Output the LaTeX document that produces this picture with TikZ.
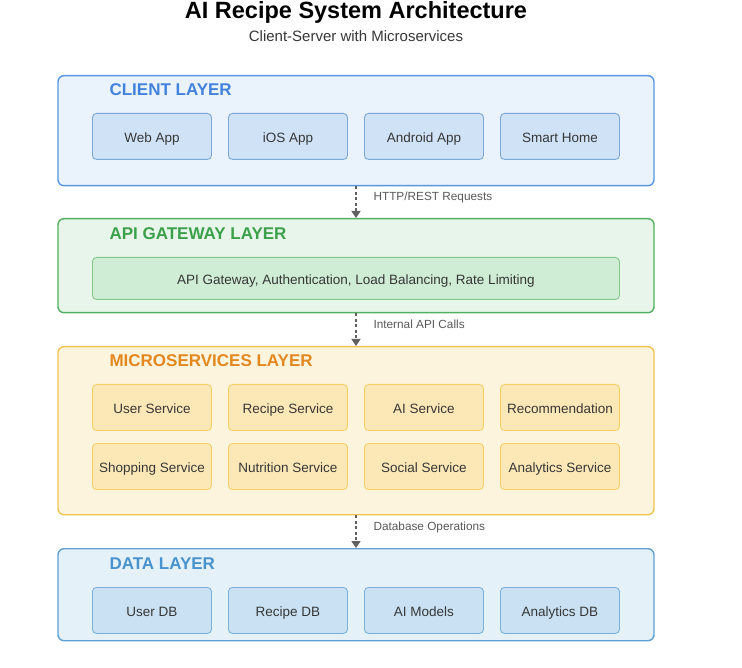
\documentclass[tikz,border=0pt]{standalone}
\usepackage{fontspec}
\setmainfont{Liberation Sans}
\usepackage{tikz}
\usetikzlibrary{arrows.meta}
\usepackage{xcolor}

\definecolor{clientfill}{RGB}{234,243,252}
\definecolor{clientline}{RGB}{88,150,222}
\definecolor{clientbox}{RGB}{207,226,246}
\definecolor{clientboxline}{RGB}{122,168,218}
\definecolor{clienttext}{RGB}{66,130,220}
\definecolor{gatefill}{RGB}{232,245,235}
\definecolor{gateline}{RGB}{82,176,96}
\definecolor{gatebox}{RGB}{207,236,212}
\definecolor{gateboxline}{RGB}{132,200,142}
\definecolor{gatetext}{RGB}{58,160,74}
\definecolor{microfill}{RGB}{253,244,222}
\definecolor{microline}{RGB}{240,196,82}
\definecolor{microbox}{RGB}{252,232,182}
\definecolor{microboxline}{RGB}{245,206,102}
\definecolor{microtext}{RGB}{226,136,30}
\definecolor{datafill}{RGB}{229,241,248}
\definecolor{dataline}{RGB}{96,160,210}
\definecolor{databox}{RGB}{201,225,242}
\definecolor{databoxline}{RGB}{126,176,215}
\definecolor{datatext}{RGB}{72,146,205}
\definecolor{bodytext}{RGB}{55,55,55}
\definecolor{flowtext}{RGB}{88,88,88}

\tikzset{
    layer/.style={draw, line width=1.4pt, rounded corners=6pt, minimum width=596pt, anchor=north},
    unit/.style={draw, line width=0.9pt, rounded corners=4pt, minimum width=119pt, minimum height=46pt,
        anchor=north west, text=bodytext, text height=12pt, text depth=0pt,
        font=\fontsize{13.5}{15}\selectfont},
    layertitle/.style={anchor=west, font=\fontsize{17}{19}\selectfont\bfseries},
    flow/.style={dash pattern=on 3pt off 2.5pt, line width=1.5pt, draw=gray!75!black,
        -{Triangle[width=9pt,length=7pt]}},
    flowlabel/.style={anchor=west, text=flowtext, font=\fontsize{11.8}{13}\selectfont}
}

\begin{document}
\begin{tikzpicture}[x=1pt, y=-1pt]
    \useasboundingbox (0,0) rectangle (742,668);
    % Title
    \node [inner sep=1pt] (title) at (356,12) {\fontsize{23.5}{26}\selectfont\bfseries AI Recipe System Architecture};
    \node [text=bodytext] (subtitle) at (356,36) {\fontsize{15}{17}\selectfont Client-Server with Microservices};

    % Layers
    \node [layer, fill=clientfill, draw=clientline, minimum height=110pt] (client) at (356,75) {};
    \node [layer, fill=gatefill, draw=gateline, minimum height=94pt] (gateway) at (356,218) {};
    \node [layer, fill=microfill, draw=microline, minimum height=168pt] (micro) at (356,346) {};
    \node [layer, fill=datafill, draw=dataline, minimum height=92pt] (data) at (356,548) {};

    % Layer titles
    \node [layertitle, text=clienttext] (clienttitle) at (106,90) {CLIENT LAYER};
    \node [layertitle, text=gatetext] (gatewaytitle) at (106,234) {API GATEWAY LAYER};
    \node [layertitle, text=microtext] (microtitle) at (106,361) {MICROSERVICES LAYER};
    \node [layertitle, text=datatext] (datatitle) at (106,564) {DATA LAYER};

    % Client layer
    \node [unit, fill=clientbox, draw=clientboxline] (web) at (92,113) {Web App};
    \node [unit, fill=clientbox, draw=clientboxline] (ios) at (228,113) {iOS App};
    \node [unit, fill=clientbox, draw=clientboxline] (android) at (364,113) {Android App};
    \node [unit, fill=clientbox, draw=clientboxline] (smarthome) at (500,113) {Smart Home};

    % API gateway layer
    \node [unit, fill=gatebox, draw=gateboxline, minimum width=527pt, minimum height=42pt] (gate) at (92,257)
        {API Gateway, Authentication, Load Balancing, Rate Limiting};

    % Microservices layer
    \node [unit, fill=microbox, draw=microboxline] (usersvc) at (92,384) {User Service};
    \node [unit, fill=microbox, draw=microboxline] (recipesvc) at (228,384) {Recipe Service};
    \node [unit, fill=microbox, draw=microboxline] (aisvc) at (364,384) {AI Service};
    \node [unit, fill=microbox, draw=microboxline] (recsvc) at (500,384) {Recommendation};
    \node [unit, fill=microbox, draw=microboxline] (shopsvc) at (92,443) {Shopping Service};
    \node [unit, fill=microbox, draw=microboxline] (nutrisvc) at (228,443) {Nutrition Service};
    \node [unit, fill=microbox, draw=microboxline] (socialsvc) at (364,443) {Social Service};
    \node [unit, fill=microbox, draw=microboxline] (statsvc) at (500,443) {Analytics Service};

    % Data layer
    \node [unit, fill=databox, draw=databoxline] (userdb) at (92,587) {User DB};
    \node [unit, fill=databox, draw=databoxline] (recipedb) at (228,587) {Recipe DB};
    \node [unit, fill=databox, draw=databoxline] (aimodels) at (364,587) {AI Models};
    \node [unit, fill=databox, draw=databoxline] (statdb) at (500,587) {Analytics DB};

    % Flows between layers
    \draw [flow] (client.south) -- (gateway.north);
    \draw [flow] (gateway.south) -- (micro.north);
    \draw [flow] (micro.south) -- (data.north);
    \node [flowlabel] (httplabel) at (370,197) {HTTP/REST Requests};
    \node [flowlabel] (apilabel) at (370,324) {Internal API Calls};
    \node [flowlabel] (dblabel) at (370,527) {Database Operations};
\end{tikzpicture}
\end{document}
